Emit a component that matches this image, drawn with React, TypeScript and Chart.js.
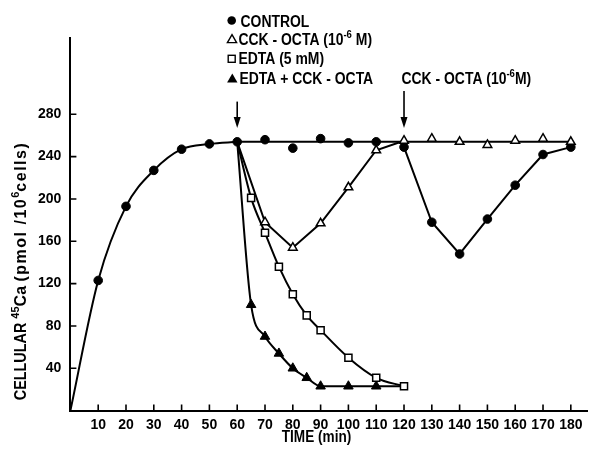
import { useEffect, useRef } from 'react';
import { Chart, registerables } from 'chart.js';

Chart.register(...registerables);

// Time (min) and cellular 45Ca (pmol / 10^6 cells)
const controlRiseTimes = [0, 10, 20, 30, 40, 50, 60];
const controlRiseValues = [0, 123, 193, 227, 247, 252, 254];
const controlPlateauTimes = [70, 80, 90, 100, 110];
const controlPlateauValues = [256, 248, 257, 253, 254];
const controlSecondTimes = [120, 130, 140, 150, 160, 170, 180];
const controlSecondValues = [249, 178, 148, 181, 213, 242, 249];
const plateauFitTimes = [60, 180];
const plateauFitValues = [254, 254];
const cckTimes = [60, 70, 80, 90, 100, 110, 120];
const cckValues = [254, 178, 154, 177, 211, 246, 255];
const cckLateTimes = [130, 140, 150, 160, 170, 180];
const cckLateValues = [257, 254, 251, 255, 257, 254];
const edtaTimes = [60, 65, 70, 75, 80, 85, 90, 100, 110, 120];
const edtaValues = [254, 201, 168, 136, 110, 90, 76, 50, 31, 23];
const edtaCckTimes = [60, 65, 70, 75, 80, 85, 90, 100, 110, 120];
const edtaCckValues = [254, 100, 70, 54, 40, 31, 23, 23, 23, 23];

const xTickValues = [10, 20, 30, 40, 50, 60, 70, 80, 90, 100, 110, 120, 130, 140, 150, 160, 170, 180];
const yTickValues = [40, 80, 120, 160, 200, 240, 280];

// CCK-OCTA additions
const arrowTimes = [60, 120];
const arrowTopValues = [292, 302];
const arrowTipValues = [267, 267];

const INK = '#000';
const TEXT_FONT = '"Liberation Sans", Arial, sans-serif';

// a run of text; sx condenses it horizontally, ls adds letter spacing
type Piece = { t: string; sup?: boolean; size?: number; sx?: number; ls?: number };

const pts = (xs: number[], ys: number[]) => xs.map((x, i) => ({ x, y: ys[i] }));

function pieceFont(p: Piece, size: number) {
  const base = p.size ?? size;
  const s = p.sup ? Math.round(base * 0.66) : base;
  return { s, base, font: `bold ${s}px ${TEXT_FONT}` };
}

function pieceWidth(ctx: CanvasRenderingContext2D, p: Piece, size: number, sx: number) {
  const { font } = pieceFont(p, size);
  ctx.font = font;
  (ctx as any).letterSpacing = `${p.ls ?? 0}px`;
  const w = ctx.measureText(p.t).width * (p.sx ?? sx);
  (ctx as any).letterSpacing = '0px';
  return w;
}

function drawPieces(ctx: CanvasRenderingContext2D, pieces: Piece[], x: number, baseline: number, size: number, sx: number) {
  let cx = x;
  for (const p of pieces) {
    const { base, font } = pieceFont(p, size);
    const w = pieceWidth(ctx, p, size, sx);
    ctx.save();
    ctx.translate(cx, p.sup ? baseline - base * 0.42 : baseline);
    ctx.scale(p.sx ?? sx, 1);
    ctx.font = font;
    (ctx as any).letterSpacing = `${p.ls ?? 0}px`;
    ctx.fillText(p.t, 0, 0);
    ctx.restore();
    cx += w;
  }
  return cx - x;
}

function measurePieces(ctx: CanvasRenderingContext2D, pieces: Piece[], size: number, sx: number) {
  return pieces.reduce((w, p) => w + pieceWidth(ctx, p, size, sx), 0);
}

function triangle(ctx: CanvasRenderingContext2D, cx: number, cy: number, r: number, filled: boolean) {
  ctx.beginPath();
  for (let k = 0; k < 3; k++) {
    const a = -Math.PI / 2 + (k * 2 * Math.PI) / 3;
    const px = cx + Math.cos(a) * r;
    const py = cy + Math.sin(a) * r;
    if (k === 0) ctx.moveTo(px, py);
    else ctx.lineTo(px, py);
  }
  ctx.closePath();
  if (filled) ctx.fill();
  else {
    ctx.fillStyle = '#fff';
    ctx.fill();
    ctx.fillStyle = INK;
    ctx.stroke();
  }
}

const legendLines: { pieces: Piece[]; x: number; baseline: number }[] = [
  { pieces: [{ t: 'CONTROL' }], x: 240.5, baseline: 26.5 },
  { pieces: [{ t: 'CCK - OCTA (10' }, { t: '-6', sup: true }, { t: ' M)' }], x: 238.5, baseline: 45 },
  { pieces: [{ t: 'EDTA (5 mM)' }], x: 238.5, baseline: 64 },
  { pieces: [{ t: 'EDTA + CCK - OCTA' }], x: 239.5, baseline: 84 },
  { pieces: [{ t: 'CCK - OCTA (10' }, { t: '-6', sup: true }, { t: 'M)' }], x: 401.5, baseline: 84 },
];

const yTitle: Piece[] = [
  { t: 'CELLULAR ', sx: 0.9 },
  { t: '45', sup: true, sx: 1 },
  { t: 'Ca ', sx: 1 },
  { t: '(pmol /10', sx: 1, ls: 1.5 },
  { t: '6', sup: true, sx: 1 },
  { t: 'cells)', sx: 1, ls: 1.5 },
];

const annotations = {
  id: 'annotations',
  afterDraw(chart: Chart) {
    const { ctx, chartArea } = chart;
    const x = chart.scales.x;
    const y = chart.scales.y;
    ctx.save();
    ctx.strokeStyle = INK;
    ctx.fillStyle = INK;

    // inward tick marks
    ctx.lineWidth = 1.6;
    ctx.beginPath();
    for (const v of xTickValues) {
      const px = x.getPixelForValue(v);
      ctx.moveTo(px, chartArea.bottom);
      ctx.lineTo(px, chartArea.bottom - 6);
    }
    for (const v of yTickValues) {
      const py = y.getPixelForValue(v);
      ctx.moveTo(chartArea.left, py);
      ctx.lineTo(chartArea.left + 6, py);
    }
    ctx.stroke();

    // arrows marking CCK-OCTA addition
    arrowTimes.forEach((t, i) => {
      const px = x.getPixelForValue(t);
      const top = y.getPixelForValue(arrowTopValues[i]);
      const tip = y.getPixelForValue(arrowTipValues[i]);
      ctx.lineWidth = 1.6;
      ctx.beginPath();
      ctx.moveTo(px, top);
      ctx.lineTo(px, tip - 8);
      ctx.stroke();
      ctx.beginPath();
      ctx.moveTo(px - 3.5, tip - 11);
      ctx.lineTo(px + 3.5, tip - 11);
      ctx.lineTo(px, tip);
      ctx.closePath();
      ctx.fill();
    });

    // legend symbols
    ctx.lineWidth = 1.4;
    ctx.beginPath();
    ctx.arc(231.7, 20.5, 4.3, 0, Math.PI * 2);
    ctx.fill();
    triangle(ctx, 232, 40, 5.3, false);
    ctx.fillStyle = '#fff';
    ctx.fillRect(228.2, 55.3, 7, 7);
    ctx.fillStyle = INK;
    ctx.strokeRect(228.2, 55.3, 7, 7);
    triangle(ctx, 232.3, 79.5, 6, true);

    // legend and annotation text
    ctx.textAlign = 'left';
    ctx.textBaseline = 'alphabetic';
    for (const line of legendLines) drawPieces(ctx, line.pieces, line.x, line.baseline, 16, 0.87);

    // x axis title
    const xt: Piece[] = [{ t: 'TIME (min)' }];
    const xw = measurePieces(ctx, xt, 16, 0.85);
    drawPieces(ctx, xt, 316.5 - xw / 2, 442, 16, 0.85);

    // y axis title
    ctx.translate(20, 271);
    ctx.rotate(-Math.PI / 2);
    const w = measurePieces(ctx, yTitle, 16, 1);
    drawPieces(ctx, yTitle, -w / 2, 6, 16, 1);

    ctx.restore();
  },
};

export default function App() {
  const canvasRef = useRef<HTMLCanvasElement | null>(null);

  useEffect(() => {
    const canvas = canvasRef.current;
    if (!canvas) return;

    const lineBase = { borderColor: INK, borderWidth: 2, clip: false as const };
    const filledCircle = { pointStyle: 'circle', pointBackgroundColor: INK, pointBorderColor: INK, pointBorderWidth: 1 };
    const openTriangle = { pointStyle: 'triangle', pointBackgroundColor: '#fff', pointBorderColor: INK, pointBorderWidth: 1.5 };
    const openSquare = { pointStyle: 'rect', pointBackgroundColor: '#fff', pointBorderColor: INK, pointBorderWidth: 1.5 };
    const filledTriangle = { pointStyle: 'triangle', pointBackgroundColor: INK, pointBorderColor: INK, pointBorderWidth: 1 };

    const chart = new Chart(canvas, {
      type: 'line',
      data: {
        datasets: [
          {
            label: 'CONTROL',
            data: pts(controlRiseTimes, controlRiseValues),
            ...lineBase,
            ...filledCircle,
            pointRadius: controlRiseTimes.map((t) => (t === 0 ? 0 : 4.3)),
            cubicInterpolationMode: 'monotone',
            order: 2,
          },
          {
            label: 'CONTROL plateau',
            data: pts(controlPlateauTimes, controlPlateauValues),
            ...lineBase,
            ...filledCircle,
            pointRadius: 4.3,
            showLine: false,
            order: 2,
          },
          {
            label: 'CONTROL + CCK-OCTA at 120 min',
            data: pts(controlSecondTimes, controlSecondValues),
            ...lineBase,
            ...filledCircle,
            pointRadius: 4.3,
            tension: 0,
            order: 2,
          },
          {
            label: 'plateau',
            data: pts(plateauFitTimes, plateauFitValues),
            ...lineBase,
            pointRadius: 0,
            tension: 0,
            order: 5,
          },
          {
            label: 'CCK - OCTA (10-6 M)',
            data: pts(cckTimes, cckValues),
            ...lineBase,
            ...openTriangle,
            pointRadius: cckTimes.map((t) => (t === 60 ? 0 : 5)),
            tension: 0,
            order: 1,
          },
          {
            label: 'CCK - OCTA late',
            data: pts(cckLateTimes, cckLateValues),
            ...lineBase,
            ...openTriangle,
            pointRadius: 5,
            showLine: false,
            order: 1,
          },
          {
            label: 'EDTA (5 mM)',
            data: pts(edtaTimes, edtaValues),
            ...lineBase,
            ...openSquare,
            pointRadius: edtaTimes.map((t) => (t === 60 ? 0 : 5)),
            cubicInterpolationMode: 'monotone',
            order: 0,
          },
          {
            label: 'EDTA + CCK - OCTA',
            data: pts(edtaCckTimes, edtaCckValues),
            ...lineBase,
            ...filledTriangle,
            pointRadius: edtaCckTimes.map((t) => (t === 60 || t === 120 ? 0 : 5.5)),
            cubicInterpolationMode: 'monotone',
            order: 3,
          },
        ] as any,
      },
      options: {
        animation: false,
        responsive: false,
        devicePixelRatio: 1,
        events: [],
        layout: { padding: { left: 0, right: 4, top: 38.1, bottom: 0 } },
        plugins: {
          legend: { display: false },
          tooltip: { enabled: false },
          title: { display: false },
        },
        scales: {
          x: {
            type: 'linear',
            min: 0,
            max: 186,
            afterBuildTicks: (s: any) => {
              s.ticks = xTickValues.map((value) => ({ value }));
            },
            afterFit: (s: any) => {
              s.height = 41.4;
            },
            grid: { display: false, drawTicks: false },
            border: { display: true, color: INK, width: 2 },
            ticks: {
              autoSkip: false,
              maxRotation: 0,
              minRotation: 0,
              padding: 6,
              color: INK,
              font: { family: TEXT_FONT, size: 14, weight: 'bold' },
            },
          },
          y: {
            type: 'linear',
            min: 0,
            max: 352,
            afterBuildTicks: (s: any) => {
              s.ticks = yTickValues.map((value) => ({ value }));
            },
            afterFit: (s: any) => {
              s.width = 70.4;
            },
            grid: { display: false, drawTicks: false },
            border: { display: true, color: INK, width: 2 },
            ticks: {
              padding: 9,
              color: INK,
              font: { family: TEXT_FONT, size: 14, weight: 'bold' },
            },
          },
        },
      },
      plugins: [annotations],
    });

    return () => chart.destroy();
  }, []);

  return (
    <div style={{ position: 'absolute', left: 0, top: 0, width: 594, height: 452, background: '#fff' }}>
      <canvas ref={canvasRef} width={594} height={452} />
    </div>
  );
}
